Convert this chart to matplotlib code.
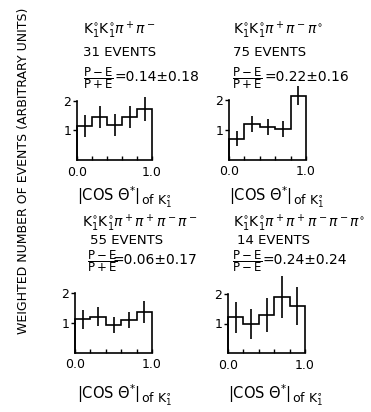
import numpy as np
import matplotlib

matplotlib.use("Agg")
import matplotlib.pyplot as plt

# bin edges of |cos theta*| (5 bins)
edges = [0.0, 0.2, 0.4, 0.6, 0.8, 1.0]

# values
tl_vals = [1.15, 1.45, 1.18, 1.45, 1.71]
tl_errs = [0.37, 0.36, 0.37, 0.36, 0.40]
tr_vals = [0.70, 1.20, 1.09, 1.03, 2.15]
tr_errs = [0.25, 0.27, 0.26, 0.26, 0.31]
bl_vals = [1.11, 1.20, 0.92, 1.09, 1.37]
bl_errs = [0.32, 0.32, 0.26, 0.27, 0.37]
br_vals = [1.21, 0.98, 1.29, 1.90, 1.59]
br_errs = [0.52, 0.52, 0.58, 0.70, 0.64]

K = r"\mathrm{K}_{\mathrm{1}}^{\circ}"
channels = [
    rf"${K}{K}\pi^+\pi^-$",
    rf"${K}{K}\pi^+\pi^-\pi^{{\circ}}$",
    rf"${K}{K}\pi^+\pi^+\pi^-\pi^-$",
    rf"${K}{K}\pi^+\pi^+\pi^-\pi^-\pi^{{\circ}}$",
]
event_counts = ["31 EVENTS", "75 EVENTS", "55 EVENTS", "14 EVENTS"]
ratios = [
    r"$\dfrac{\mathrm{P-E}}{\mathrm{P+E}}$",
    r"$\dfrac{\mathrm{P-E}}{\mathrm{P+E}}$",
    r"$\dfrac{\mathrm{P-E}}{\mathrm{P+E}}$",
    r"$\dfrac{\mathrm{P-E}}{\mathrm{P-E}}$",
]
asym_values = ["=0.14\u00b10.18", "=0.22\u00b10.16", "=0.06\u00b10.17", "=0.24\u00b10.24"]
xlabel_main = r"$|\mathrm{COS}\ \Theta^{*}|$"
xlabel_sub = rf"$\mathrm{{of}}\ {K}$"
ylabel = "WEIGHTED NUMBER OF EVENTS (ARBITRARY UNITS)"

W, H = 371, 412
fig = plt.figure(figsize=(W / 100, H / 100), dpi=100)


def fx(px):
    return px / W


def fy(py):
    return 1 - py / H


# axes boxes in pixels: left, right, bottom (y=0), top (y=2)
boxes = [(77, 152, 160, 100.5), (229, 306, 159.5, 100),
         (75, 152, 352.5, 293), (228, 305, 353, 294)]
all_vals = [tl_vals, tr_vals, bl_vals, br_vals]
all_errs = [tl_errs, tr_errs, bl_errs, br_errs]

centers = (np.array(edges[:-1]) + np.array(edges[1:])) / 2
lw = 1.2
for (l, r, b, t), vals, errs in zip(boxes, all_vals, all_errs):
    ax = fig.add_axes([fx(l), fy(b), fx(r - l), (b - t) / H])
    ax.stairs(vals, edges, baseline=0, fill=False, color="k", lw=lw, clip_on=False)
    ax.errorbar(centers, vals, yerr=errs, fmt="none", ecolor="k", elinewidth=lw,
                capsize=0, clip_on=False)
    ax.set_xlim(0, 1)
    ax.set_ylim(0, 2)
    for s in ("top", "right"):
        ax.spines[s].set_visible(False)
    for s in ("left", "bottom"):
        ax.spines[s].set_linewidth(lw)
    ax.set_yticks([1, 2])
    ax.set_yticklabels(["1", "2"], fontsize=9)
    ax.tick_params(axis="y", direction="out", length=3, width=1, pad=1)
    ax.set_xticks(edges)
    ax.set_xticklabels(["0.0", "", "", "", "", "1.0"], fontsize=9)
    ax.tick_params(axis="x", direction="in", length=3, width=1, pad=4)
    ax.patch.set_alpha(0)

# panel headings
head_x = [83, 233, 82, 233]
head_y = [30, 30, 223, 223]
count_x = [83, 233, 90, 237]
count_y = [52, 52, 241, 241]
frac_x = [83, 232, 87, 232]
frac_y = [78, 78, 261, 261]
val_x = [115, 264, 113, 263]
for i in range(4):
    fig.text(fx(head_x[i]), fy(head_y[i]), channels[i], fontsize=10, va="center")
    fig.text(fx(count_x[i]), fy(count_y[i]), event_counts[i], fontsize=9.5, va="center")
    fig.text(fx(frac_x[i]), fy(frac_y[i]), ratios[i], fontsize=8.5, va="center")
    fig.text(fx(val_x[i]), fy(frac_y[i] - 1), asym_values[i], fontsize=10, va="center")

# x labels: main part, then the "of K" part set a little lower, right after it
fig.canvas.draw()
renderer = fig.canvas.get_renderer()
for x, y in [(77, 196), (229, 196), (77, 394), (228, 394)]:
    main = fig.text(fx(x), fy(y), xlabel_main, fontsize=10.5, va="center")
    right_px = main.get_window_extent(renderer).x1
    fig.text((right_px + 1) / W, fy(y + 5), xlabel_sub, fontsize=9, va="center")

fig.text(fx(24), fy(171), ylabel, fontsize=9, rotation=90, ha="center", va="center")

fig.savefig("out.png", dpi=100)
